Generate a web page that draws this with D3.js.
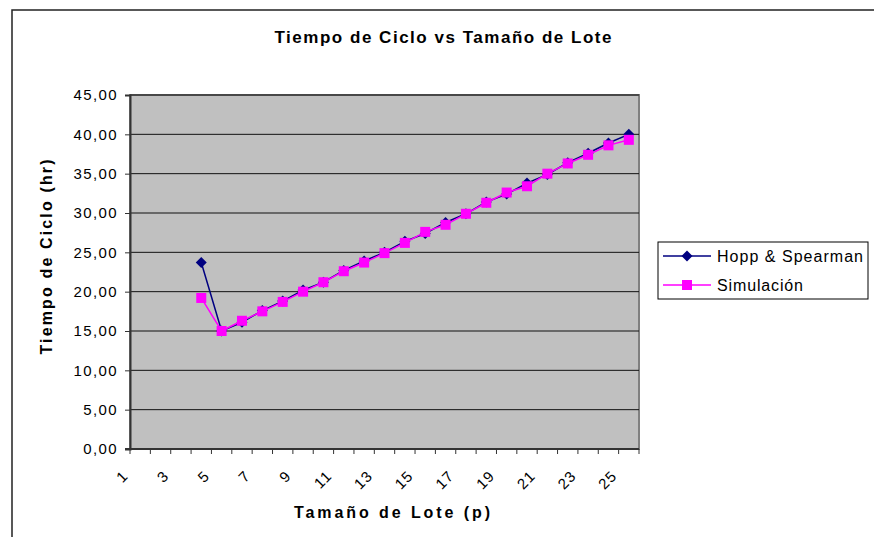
<!DOCTYPE html>
<html>
<head>
<meta charset="utf-8">
<script src="https://cdn.jsdelivr.net/npm/d3@7"></script>
<style>
  html, body { margin: 0; padding: 0; background: #fff; }
  text { font-family: "Liberation Sans", Arial, sans-serif; }
</style>
</head>
<body>
<div id="container"></div>
<script>
const width = 874;
const height = 537;

// categories 1..25 on the x axis
const lotSizes = [1, 2, 3, 4, 5, 6, 7, 8, 9, 10, 11, 12, 13, 14, 15, 16, 17, 18, 19, 20, 21, 22, 23, 24, 25];
const dataLots = [4, 5, 6, 7, 8, 9, 10, 11, 12, 13, 14, 15, 16, 17, 18, 19, 20, 21, 22, 23, 24, 25];
const hoppSpearman = [23.7, 15.0, 16.1, 17.6, 18.8, 20.2, 21.2, 22.7, 23.9, 25.0, 26.4, 27.4, 28.8, 29.9, 31.4, 32.4, 33.8, 34.9, 36.4, 37.6, 38.9, 40.0];
const simulacion = [19.2, 15.0, 16.3, 17.5, 18.7, 20.0, 21.2, 22.6, 23.7, 24.9, 26.2, 27.6, 28.5, 29.9, 31.3, 32.6, 33.4, 35.0, 36.3, 37.4, 38.6, 39.3];
const yTicks = [0, 5, 10, 15, 20, 25, 30, 35, 40, 45];

const plot = {left: 130, right: 639, top: 95, bottom: 449};

const svg = d3.select('#container').append('svg')
  .attr('width', width)
  .attr('height', height);

// outer chart frame (runs off the right and bottom edges)
svg.append('rect')
  .attr('x', 12)
  .attr('y', 10)
  .attr('width', 900)
  .attr('height', 600)
  .attr('fill', '#fff')
  .attr('stroke', '#222')
  .attr('stroke-width', 1.5);

const x = d3.scaleBand()
  .domain(lotSizes)
  .range([plot.left, plot.right])
  .padding(0);

const y = d3.scaleLinear()
  .domain([0, 45])
  .range([plot.bottom, plot.top]);

const cx = d => x(d) + x.bandwidth() / 2;

// plot background
svg.append('rect')
  .attr('x', plot.left)
  .attr('y', plot.top)
  .attr('width', plot.right - plot.left)
  .attr('height', plot.bottom - plot.top)
  .attr('fill', '#c0c0c0')
  .attr('stroke', '#808080')
  .attr('stroke-width', 2);

// gridlines
svg.append('g')
  .selectAll('line')
  .data(yTicks.filter(d => d > 0))
  .join('line')
  .attr('x1', plot.left)
  .attr('x2', plot.right)
  .attr('y1', d => y(d))
  .attr('y2', d => y(d))
  .attr('stroke', '#111')
  .attr('stroke-width', 1);

// y axis
const yAxis = svg.append('g')
  .attr('transform', `translate(${plot.left},0)`)
  .call(d3.axisLeft(y)
    .tickValues(yTicks)
    .tickSize(5)
    .tickPadding(7)
    .tickFormat(d => d.toFixed(2).replace('.', ',')));
yAxis.select('.domain').attr('stroke', '#333').attr('stroke-width', 2);
yAxis.selectAll('.tick line').attr('stroke', '#333');
yAxis.selectAll('.tick text')
  .attr('fill', '#000')
  .style('font-size', '15px')
  .style('letter-spacing', '1.4px');

// x axis line and band-boundary ticks
const xAxis = svg.append('g');
xAxis.append('line')
  .attr('x1', plot.left - 5)
  .attr('x2', plot.right)
  .attr('y1', plot.bottom)
  .attr('y2', plot.bottom)
  .attr('stroke', '#333')
  .attr('stroke-width', 2);
xAxis.selectAll('.xtick')
  .data(lotSizes.concat([null]))
  .join('line')
  .attr('class', 'xtick')
  .attr('x1', d => d === null ? plot.right : x(d))
  .attr('x2', d => d === null ? plot.right : x(d))
  .attr('y1', plot.bottom)
  .attr('y2', plot.bottom + 5)
  .attr('stroke', '#333');
xAxis.selectAll('.xlabel')
  .data(lotSizes.filter(d => d % 2 === 1))
  .join('text')
  .attr('class', 'xlabel')
  .attr('transform', d => `translate(${cx(d) - 11},${plot.bottom + 28}) rotate(-45)`)
  .attr('text-anchor', 'end')
  .style('font-size', '15px')
  .style('letter-spacing', '1px')
  .text(d => d);

// series
const series = [
  {name: 'Hopp & Spearman', values: hoppSpearman, color: '#000080', marker: 'diamond'},
  {name: 'Simulación', values: simulacion, color: '#ff00ff', marker: 'square'}
];

const line = d3.line()
  .x(d => cx(d.lot))
  .y(d => y(d.value));

function drawMarker(g, type, color) {
  if (type === 'diamond') {
    g.append('path')
      .attr('d', 'M0,-5.5L5.5,0L0,5.5L-5.5,0Z')
      .attr('fill', color);
  } else {
    g.append('rect')
      .attr('x', -5)
      .attr('y', -5)
      .attr('width', 10)
      .attr('height', 10)
      .attr('fill', color);
  }
}

series.forEach(s => {
  const pts = dataLots.map((lot, i) => ({lot, value: s.values[i]}));
  svg.append('path')
    .datum(pts)
    .attr('fill', 'none')
    .attr('stroke', s.color)
    .attr('stroke-width', 1.5)
    .attr('d', line);
  svg.append('g')
    .selectAll('g')
    .data(pts)
    .join('g')
    .attr('transform', d => `translate(${cx(d.lot)},${y(d.value)})`)
    .each(function() { drawMarker(d3.select(this), s.marker, s.color); });
});

// titles
svg.append('text')
  .attr('x', 443)
  .attr('y', 43)
  .attr('text-anchor', 'middle')
  .attr('font-weight', 'bold')
  .style('font-size', '17px')
  .attr('textLength', 337)
  .attr('lengthAdjust', 'spacing')
  .text('Tiempo de Ciclo vs Tamaño de Lote');

svg.append('text')
  .attr('x', 392)
  .attr('y', 518)
  .attr('text-anchor', 'middle')
  .attr('font-weight', 'bold')
  .style('font-size', '16px')
  .attr('textLength', 196)
  .attr('lengthAdjust', 'spacing')
  .text('Tamaño de Lote (p)');

svg.append('text')
  .attr('transform', 'translate(52,257) rotate(-90)')
  .attr('text-anchor', 'middle')
  .attr('font-weight', 'bold')
  .style('font-size', '16px')
  .attr('textLength', 195)
  .attr('lengthAdjust', 'spacing')
  .text('Tiempo de Ciclo (hr)');

// legend
const legend = svg.append('g').attr('transform', 'translate(658,242)');
legend.append('rect')
  .attr('width', 210)
  .attr('height', 57)
  .attr('fill', '#fff')
  .attr('stroke', '#000')
  .attr('stroke-width', 1);

const item = legend.selectAll('.item')
  .data(series)
  .join('g')
  .attr('class', 'item')
  .attr('transform', (d, i) => `translate(0,${14 + i * 29})`);
item.append('line')
  .attr('x1', 5)
  .attr('x2', 53)
  .attr('stroke', d => d.color)
  .attr('stroke-width', 1.5);
item.each(function(d) {
  const g = d3.select(this).append('g').attr('transform', 'translate(29,0)');
  drawMarker(g, d.marker, d.color);
});
item.append('text')
  .attr('x', 59)
  .attr('y', 6)
  .style('font-size', '16px')
  .attr('textLength', (d, i) => i === 0 ? 146 : 86)
  .attr('lengthAdjust', 'spacing')
  .text(d => d.name);
</script>
</body>
</html>
